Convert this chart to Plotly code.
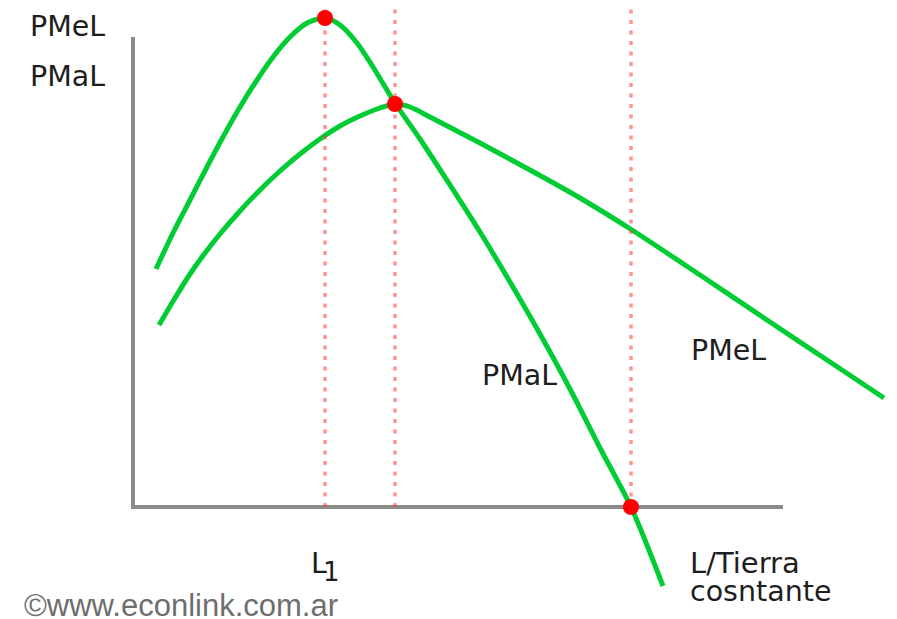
import plotly.graph_objects as go

# Data units: labour (x) and product per worker (y)
pmal_x = [2.3, 4.0, 5.7, 7.4, 9.0, 10.7, 12.4, 14.0, 15.7, 17.4, 19.2, 20.7, 22.4, 24.0,
          26.2, 28.7, 31.7, 34.7, 37.7, 40.7, 43.7, 46.7, 49.8, 53.0]
pmal_y = [23.8, 27.4, 30.7, 34.0, 37.0, 40.0, 42.7, 45.0, 47.0, 48.4, 48.9, 48.2, 46.4, 44.0,
          40.4, 36.8, 32.2, 27.5, 22.5, 17.3, 11.8, 5.9, 0.0, -7.9]

pmel_x = [2.6, 4.2, 5.7, 7.2, 8.7, 10.7, 12.7, 14.7, 16.7, 18.7, 20.7, 22.7, 24.7, 26.2,
          27.7, 29.7, 34.7, 39.7, 44.7, 49.9, 56.7, 63.4, 70.0, 75.1]
pmel_y = [18.2, 20.9, 23.3, 25.4, 27.3, 29.6, 31.7, 33.6, 35.3, 36.8, 38.1, 39.1, 39.9, 40.3,
          40.0, 39.0, 36.4, 33.7, 30.9, 27.7, 23.2, 18.7, 14.3, 10.9]

key_x = [19.2, 26.2, 49.8]
key_y = [48.9, 40.3, 0.0]

axis_x_max = 65.0
axis_y_max = 47.0
x_range = [-12.5, 76.4]
y_range = [-11.2, 49.9]

GREEN = "rgb(0,204,51)"
GRAY = "#8a8a8a"
TXT = "#1e1e1e"
FONT = "DejaVu Sans"

fig = go.Figure()

# axes
fig.add_trace(go.Scatter(x=[0, 0, axis_x_max], y=[axis_y_max, 0, 0], mode="lines",
                         line=dict(color=GRAY, width=4), hoverinfo="skip"))

# curves
for cx, cy in ((pmal_x, pmal_y), (pmel_x, pmel_y)):
    fig.add_trace(go.Scatter(x=cx, y=cy, mode="lines",
                             line=dict(color=GREEN, width=5, shape="spline", smoothing=0.8),
                             hoverinfo="skip"))

# dotted guide lines
for kx in key_x:
    fig.add_trace(go.Scatter(x=[kx, kx], y=[0, y_range[1]], mode="lines",
                             line=dict(color="rgba(255,60,60,0.55)", width=3.5, dash="4px,6.5px"),
                             hoverinfo="skip"))

# key points
fig.add_trace(go.Scatter(x=key_x, y=key_y, mode="markers",
                         marker=dict(color="#ff0000", size=16, line=dict(width=0)), hoverinfo="skip"))


def txt(x, y, s, size=28.5, color=TXT, family=FONT, xanchor="left"):
    fig.add_annotation(x=x, y=y, text=s, showarrow=False, xanchor=xanchor, yanchor="middle",
                       font=dict(family=family, size=size, color=color))


txt(-10.5, 48.1, "PMeL")
txt(-10.5, 43.1, "PMaL")
txt(38.6, 13.2, "PMaL", xanchor="center")
txt(59.5, 15.7, "PMeL", xanchor="center")
txt(17.6, -5.6, "L")
txt(19.8, -6.5, "1", size=26, xanchor="center")
txt(55.5, -5.6, "L/Tierra", size=29)
txt(55.5, -8.4, "cosntante", size=28.5)
txt(-11.1, -9.8, "©www.econlink.com.ar", size=31, color="#6e6e6e", family="Liberation Sans")

fig.update_layout(width=889, height=611, margin=dict(l=0, r=0, t=0, b=0),
                  paper_bgcolor="white", plot_bgcolor="white", showlegend=False,
                  xaxis=dict(range=x_range, visible=False, fixedrange=True),
                  yaxis=dict(range=y_range, visible=False, fixedrange=True))

fig.write_html("out.html")
